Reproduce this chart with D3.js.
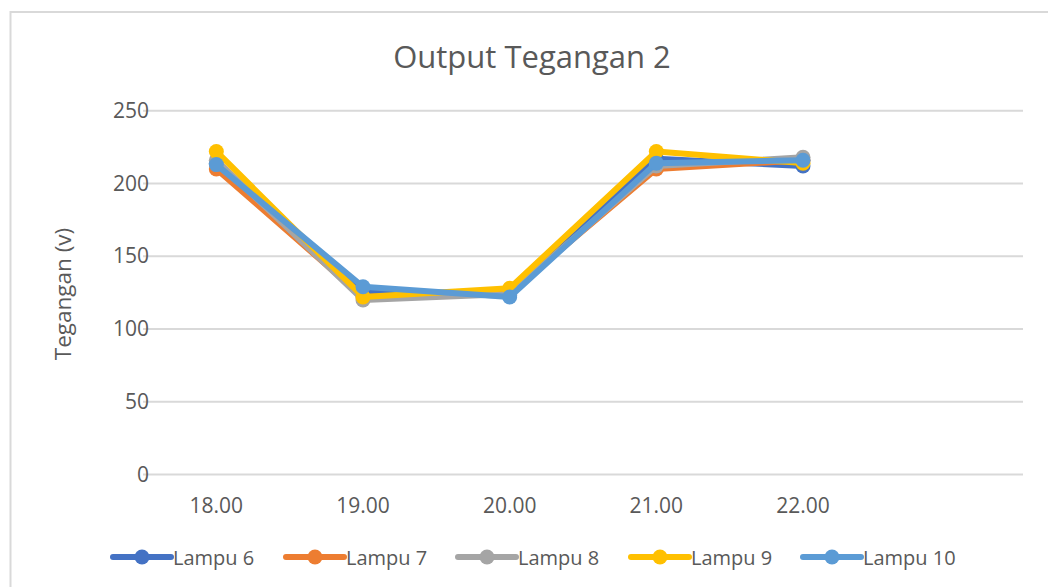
<!DOCTYPE html>
<html>
<head>
<meta charset="utf-8">
<script src="https://cdn.jsdelivr.net/npm/d3@7"></script>
<style>
body { margin: 0; background: #fff; }
svg { display: block; font-family: "Open Sans", sans-serif; }
</style>
</head>
<body>
<script>
// data
var categories = ["18.00", "19.00", "20.00", "21.00", "22.00", ""]
var seriesNames = ["Lampu 6", "Lampu 7", "Lampu 8", "Lampu 9", "Lampu 10"]
var lampu6 = [214, 125, 123, 217, 212]
var lampu7 = [210, 122, 125, 210, 216]
var lampu8 = [216, 120, 124, 212, 218]
var lampu9 = [222, 122, 128, 222, 214]
var lampu10 = [213, 129, 122, 214, 216]
var yTicks = [0, 50, 100, 150, 200, 250]
var colors = ["#4472C4", "#ED7D31", "#A5A5A5", "#FFC000", "#5B9BD5"]

var allSeries = [lampu6, lampu7, lampu8, lampu9, lampu10]

var W = 1048, H = 587
var svg = d3.select("body").append("svg")
    .attr("width", W)
    .attr("height", H)

// chart border
svg.append("rect")
    .attr("x", 10.5).attr("y", 12)
    .attr("width", 1100).attr("height", 700)
    .attr("fill", "none")
    .attr("stroke", "#D9D9D9")
    .attr("stroke-width", 2)

// title
svg.append("text")
    .attr("x", 532).attr("y", 68)
    .attr("text-anchor", "middle")
    .attr("font-size", "31px")
    .attr("fill", "#595959")
    .text("Output Tegangan 2")

var x = d3.scaleBand().domain(categories).range([143, 1023])
var y = d3.scaleLinear().domain([0, 250]).range([474.5, 110.75])

// gridlines
svg.append("g").selectAll("line")
    .data(yTicks)
    .enter().append("line")
        .attr("x1", 143).attr("x2", 1023)
        .attr("y1", function(d){ return y(d) })
        .attr("y2", function(d){ return y(d) })
        .attr("stroke", "#D9D9D9")
        .attr("stroke-width", 2)

// y tick labels
svg.append("g").selectAll("text")
    .data(yTicks)
    .enter().append("text")
        .attr("x", 149)
        .attr("y", function(d){ return y(d) + 7 })
        .attr("text-anchor", "end")
        .attr("font-size", "21px")
        .attr("fill", "#595959")
        .text(function(d){ return d })

// x tick labels
svg.append("g").selectAll("text")
    .data(categories)
    .enter().append("text")
        .attr("x", function(d){ return x(d) + x.bandwidth()/2 })
        .attr("y", 513)
        .attr("text-anchor", "middle")
        .attr("font-size", "21px")
        .attr("fill", "#595959")
        .text(function(d){ return d })

// y axis title
svg.append("text")
    .attr("transform", "translate(71,294) rotate(-90)")
    .attr("text-anchor", "middle")
    .attr("font-size", "22.5px")
    .attr("fill", "#595959")
    .text("Tegangan (v)")

// lines + markers
var line = d3.line()
    .x(function(d, i){ return x(categories[i]) + x.bandwidth()/2 })
    .y(function(d){ return y(d) })

for (var s = 0; s < allSeries.length; s++) {
    var g = svg.append("g")
    g.append("path")
        .attr("d", line(allSeries[s]))
        .attr("fill", "none")
        .attr("stroke", colors[s])
        .attr("stroke-width", 6)
        .attr("stroke-linejoin", "round")
        .attr("stroke-linecap", "round")
    g.selectAll("circle")
        .data(allSeries[s])
        .enter().append("circle")
            .attr("cx", function(d, i){ return x(categories[i]) + x.bandwidth()/2 })
            .attr("cy", function(d){ return y(d) })
            .attr("r", 7.5)
            .attr("fill", colors[s])
}

// legend
var legX = [113, 286, 458, 631, 803]
var legY = 557
for (var k = 0; k < seriesNames.length; k++) {
    var lg = svg.append("g")
    lg.append("line")
        .attr("x1", legX[k]).attr("x2", legX[k] + 58)
        .attr("y1", legY).attr("y2", legY)
        .attr("stroke", colors[k])
        .attr("stroke-width", 6)
        .attr("stroke-linecap", "round")
    lg.append("circle")
        .attr("cx", legX[k] + 29).attr("cy", legY)
        .attr("r", 7.5)
        .attr("fill", colors[k])
    lg.append("text")
        .attr("x", legX[k] + 60).attr("y", legY + 8)
        .attr("font-size", "20px")
        .attr("fill", "#595959")
        .text(seriesNames[k])
}
</script>
</body>
</html>
